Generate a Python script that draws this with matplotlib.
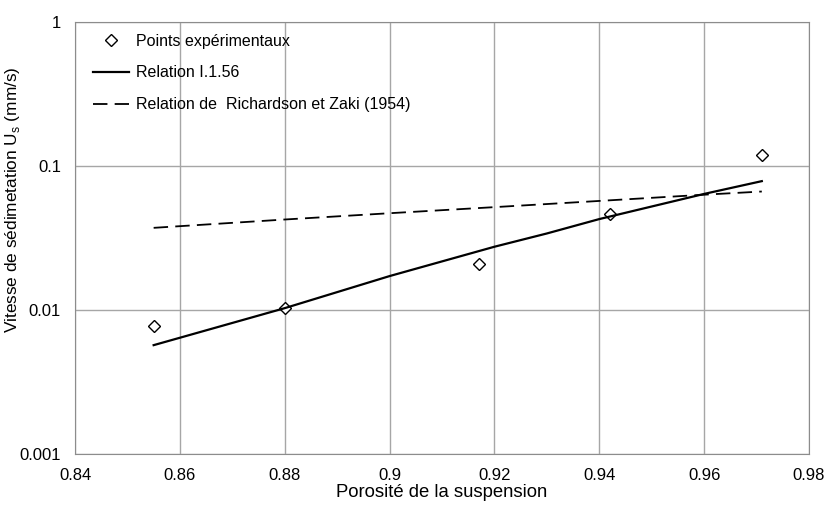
import numpy as np
import matplotlib.pyplot as plt

plt.rcParams['font.family'] = ['Liberation Sans', 'DejaVu Sans']

# points expérimentaux
eps_exp = [0.855, 0.88, 0.917, 0.942, 0.971]
us_exp = [0.0077, 0.0103, 0.0208, 0.0467, 0.119]

# relation I.1.56
eps_rel = [0.855, 0.88, 0.90, 0.92, 0.93, 0.94, 0.96, 0.971]
us_rel = [0.0057, 0.0103, 0.0172, 0.0275, 0.034, 0.0428, 0.064, 0.0785]

# Richardson et Zaki (1954)
eps_rz = [0.855, 0.88, 0.90, 0.92, 0.94, 0.96, 0.971]
us_rz = [0.0372, 0.0425, 0.047, 0.0518, 0.0572, 0.0632, 0.0665]

xticks = [0.84, 0.86, 0.88, 0.9, 0.92, 0.94, 0.96, 0.98]
xlabels = ["0.84", "0.86", "0.88", "0.9", "0.92", "0.94", "0.96", "0.98"]
yticks = [0.001, 0.01, 0.1, 1]
ylabels = ["0.001", "0.01", "0.1", "1"]

fig = plt.figure(figsize=(8.27, 5.09), dpi=100)
ax = fig.add_axes([75/827, 1-454/509, (809-75)/827, (454-22)/509])

ax.plot(eps_exp, us_exp, ls="none", marker="D", ms=6, mfc="white", mec="black",
        mew=1.0, label="Points expérimentaux")
ax.plot(eps_rel, us_rel, c="black", lw=1.6, label="Relation I.1.56")
ax.plot(eps_rz, us_rz, c="black", lw=1.3, ls=(0, (8, 4)),
        label="Relation de  Richardson et Zaki (1954)")

ax.set_yscale("log")
ax.set_xlim(0.84, 0.98)
ax.set_ylim(0.001, 1)
ax.set_xticks(xticks)
ax.set_xticklabels(xlabels)
ax.set_yticks(yticks)
ax.set_yticklabels(ylabels)
ax.minorticks_off()
ax.tick_params(length=0, labelsize=12)
ax.tick_params(axis="x", pad=10)
ax.tick_params(axis="y", pad=10)
ax.grid(True, color="#a6a6a6", lw=1)
for s in ax.spines.values():
    s.set_color("#8c8c8c")
ax.set_axisbelow(True)

ax.set_xlabel("Porosité de la suspension", fontsize=13.3, labelpad=1)
ax.set_ylabel("Vitesse de sédimetation U$_\\mathregular{s}$ (mm/s)", fontsize=12.4)
ax.yaxis.set_label_coords(-0.072, 0.588)

leg = ax.legend(loc="upper left", bbox_to_anchor=(0, 1 + 6/432), frameon=False,
                fontsize=11.5, handlelength=2.25, labelspacing=1.05,
                borderaxespad=0.7, handletextpad=0.5)

fig.savefig("out.png", dpi=100)
